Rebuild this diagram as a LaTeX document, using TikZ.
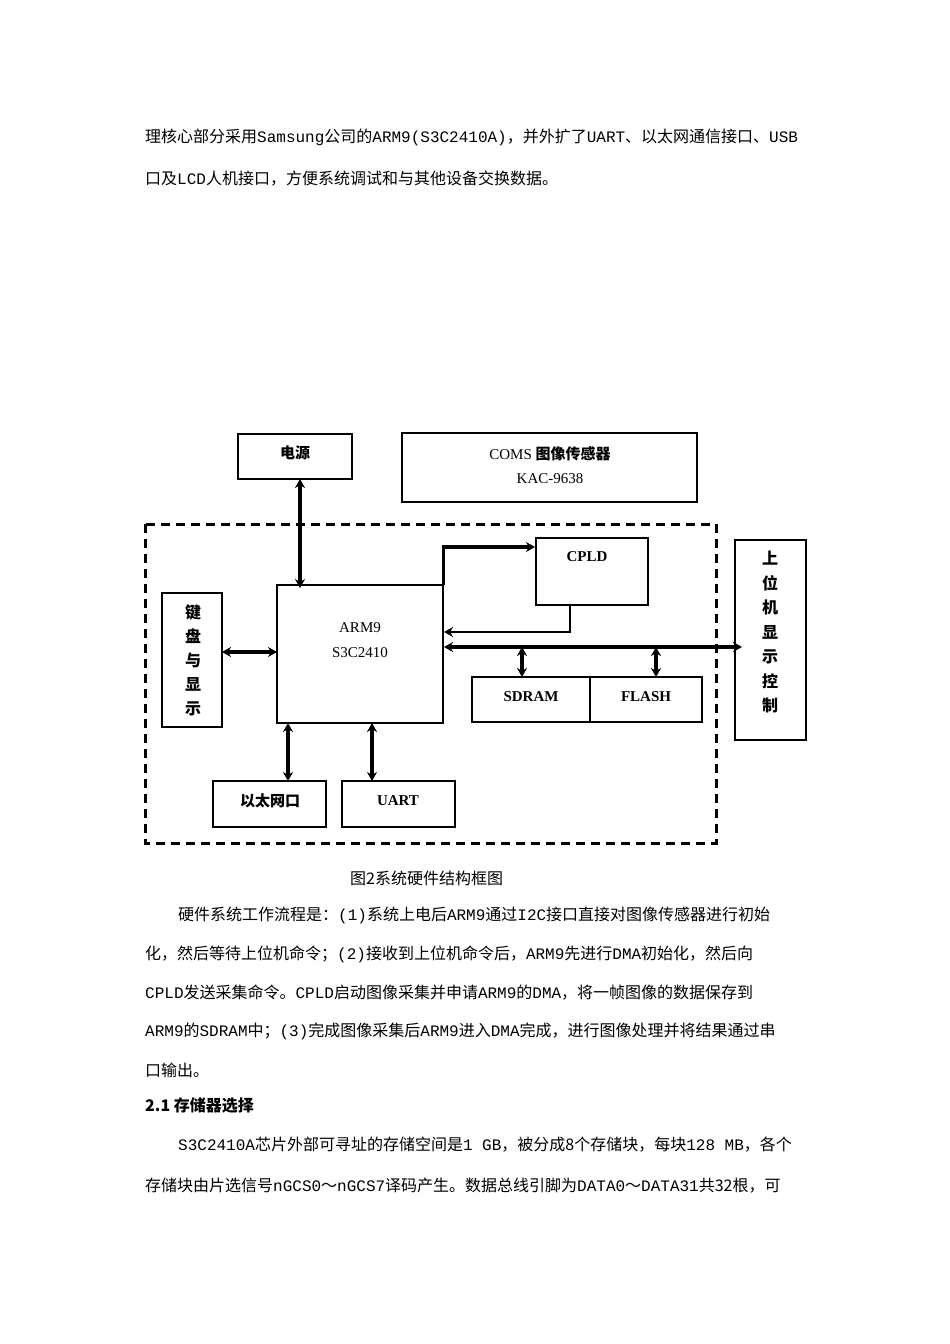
\documentclass[tikz,border=0pt]{standalone}
\usepackage{fontspec}
\setmainfont{Liberation Serif}
\newfontfamily\cjk{Noto Sans CJK SC}
\newfontfamily\mono{Liberation Mono}
\usetikzlibrary{arrows.meta}
\begin{document}
\begin{tikzpicture}[x=1pt,y=-1pt,
  bx/.style={draw,line width=1.6pt},
  lbl/.style={font=\fontsize{15}{17}\selectfont\bfseries},
  ln/.style={anchor=west,inner sep=0pt,font=\fontsize{16}{18}\selectfont\cjk},
  bus/.style={line width=3.2pt,{Stealth[length=9pt,width=10pt]}-{Stealth[length=9pt,width=10pt]}},
  one/.style={line width=3.2pt,-{Stealth[length=9pt,width=10pt]}}]
\useasboundingbox (0,0) rectangle (950,1344);
% text
\node[ln] (t1) at (145,137) {理核心部分采用{\mono Samsung}公司的{\mono ARM9(S3C2410A)}，并外扩了{\mono UART}、以太网通信接口、{\mono USB}};
\node[ln] (t2) at (145,179) {口及{\mono LCD}人机接口，方便系统调试和与其他设备交换数据。};
\node[ln] (cap) at (350,878) {图2系统硬件结构框图};
\node[ln] (t3) at (178,915) {硬件系统工作流程是：{\mono (1)}系统上电后{\mono ARM9}通过{\mono I2C}接口直接对图像传感器进行初始};
\node[ln] (t4) at (145,954) {化，然后等待上位机命令；{\mono (2)}接收到上位机命令后，{\mono ARM9}先进行{\mono DMA}初始化，然后向};
\node[ln] (t5) at (145,993) {{\mono CPLD}发送采集命令。{\mono CPLD}启动图像采集并申请{\mono ARM9}的{\mono DMA}，将一帧图像的数据保存到};
\node[ln] (t6) at (145,1031) {{\mono ARM9}的{\mono SDRAM}中；{\mono (3)}完成图像采集后{\mono ARM9}进入{\mono DMA}完成，进行图像处理并将结果通过串};
\node[ln] (t7) at (145,1070) {口输出。};
\node[ln,font=\fontsize{16}{18}\selectfont\cjk\bfseries] (h) at (145,1105) {2.1 存储器选择};
\node[ln] (t8) at (178,1145) {{\mono S3C2410A}芯片外部可寻址的存储空间是{\mono 1 GB}，被分成8个存储块，每块{\mono 128 MB}，各个};
\node[ln] (t9) at (145,1186) {存储块由片选信号{\mono nGCS0}～{\mono nGCS7}译码产生。数据总线引脚为{\mono DATA0}～{\mono DATA31}共32根，可};
% diagram
\draw[line width=3pt,dash pattern=on 9pt off 6pt] (145,524) rectangle (716,843);
\draw[bx] (238,434) rectangle (352,479);
\node[lbl] (pw) at (295,453) {\cjk\bfseries 电源};
\draw[bx] (402,433) rectangle (697,502);
\node[lbl,align=center,font=\fontsize{15}{24}\selectfont] (coms) at (550,465) {COMS {\cjk\bfseries 图像传感器}\\KAC-9638};
\draw[bx] (536,538) rectangle (648,605);
\node[lbl] (cpld) at (587,557) {CPLD};
\draw[bx] (277,585) rectangle (443,723);
\node[align=center,font=\fontsize{15}{25}\selectfont] (arm) at (360,640) {ARM9\\S3C2410};
\draw[bx] (162,593) rectangle (222,727);
\node[lbl,align=center,font=\fontsize{16}{24}\selectfont\cjk\bfseries] (kb) at (193,660) {键\\盘\\与\\显\\示};
\draw[bx] (735,540) rectangle (806,740);
\node[lbl,align=center,font=\fontsize{16}{24.5}\selectfont\cjk\bfseries] (pc) at (770,632) {上\\位\\机\\显\\示\\控\\制};
\draw[bx] (472,677) rectangle (590,722);
\node[lbl] (sd) at (531,697) {SDRAM};
\draw[bx] (590,677) rectangle (702,722);
\node[lbl] (fl) at (646,697) {FLASH};
\draw[bx] (213,781) rectangle (326,827);
\node[lbl] (eth) at (270,801) {\cjk\bfseries 以太网口};
\draw[bx] (342,781) rectangle (455,827);
\node[lbl] (ua) at (398,801) {UART};
% connectors
\draw[bus] (300,479) -- (300,588);
\draw[bus] (222,652) -- (277,652);
\draw[line width=3pt] (443,585) -- (443,547);
\draw[one] (441.5,547) -- (535,547);
\draw[line width=1.8pt] (570,605) -- (570,632);
\draw[line width=2.4pt,-{Stealth[length=9pt,width=10pt]}] (571,632) -- (444,632);
\draw[bus] (444,647) -- (742,647);
\draw[bus] (522,647) -- (522,677);
\draw[bus] (656,647) -- (656,677);
\draw[bus] (288,723) -- (288,781);
\draw[bus] (372,723) -- (372,781);
\end{tikzpicture}
\end{document}
